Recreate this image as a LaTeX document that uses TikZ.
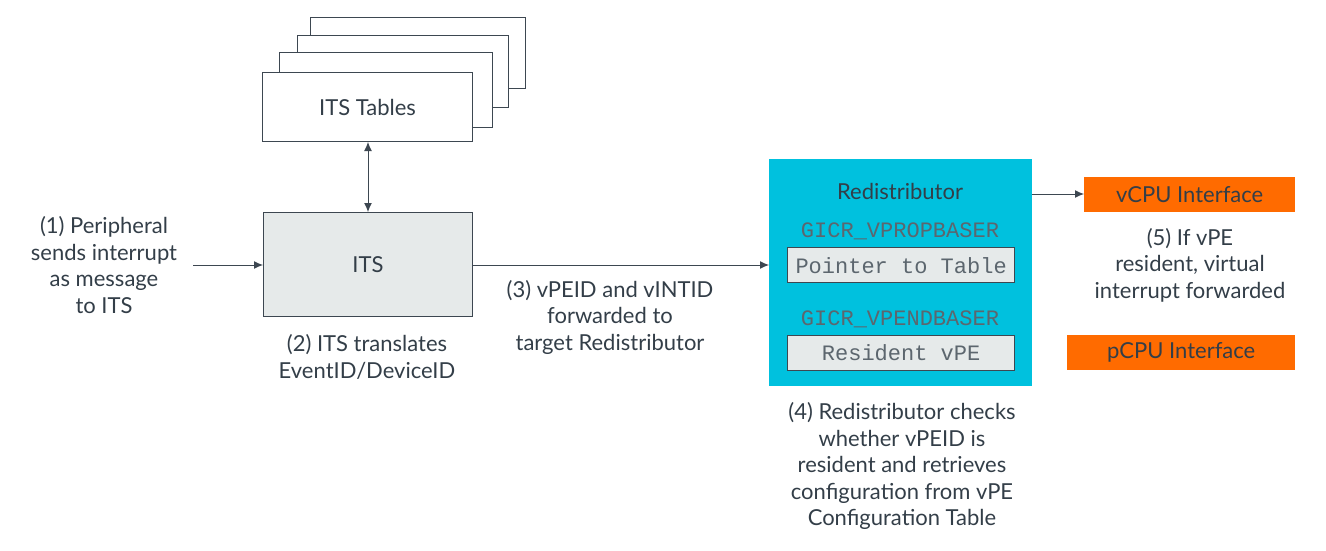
\documentclass[tikz,border=0pt]{standalone}
\usepackage{fontspec}
\setmainfont{Lato}
\newfontfamily\monofont{Liberation Mono}
\usetikzlibrary{arrows.meta}
\definecolor{txt}{HTML}{333E48}
\definecolor{ln}{HTML}{3D4751}
\definecolor{boxgray}{HTML}{E6EAEA}
\definecolor{cyanbox}{HTML}{00C1DE}
\definecolor{orangebox}{HTML}{FF6B00}
\definecolor{monotxt}{HTML}{5C666E}
\tikzset{
  lbl/.style={text=txt,font=\fontsize{22}{26.5}\selectfont,align=center,inner sep=0pt},
  tblbox/.style={draw=ln,line width=1pt,fill=white},
  regbox/.style={draw=ln,line width=1.3pt,fill=boxgray},
  mono/.style={text=monotxt,font=\monofont\fontsize{22}{24}\selectfont,inner sep=0pt},
  conn/.style={draw=ln,line width=1pt,-{Latex[length=9pt,width=8pt]}},
  dconn/.style={draw=ln,line width=1pt,{Latex[length=9pt,width=8pt]}-{Latex[length=9pt,width=8pt]}},
}
\begin{document}
\begin{tikzpicture}[x=1pt,y=-1pt]
\useasboundingbox (0,0) rectangle (1326,551);
% stacked tables
\draw[tblbox] (310,18) rectangle (525,89);
\draw[tblbox] (297,36) rectangle (508,107);
\draw[tblbox] (279,53) rectangle (492,127);
\node[tblbox,minimum width=210pt,minimum height=69pt,anchor=north west,inner sep=0pt] (tables) at (262,72) {};
\node[lbl] at (tables.center) {ITS Tables};
% ITS
\node[regbox,line width=1pt,minimum width=209pt,minimum height=104pt,anchor=north west,inner sep=0pt] (its) at (263,212) {};
\node[lbl] at (its.center) {ITS};
\draw[dconn] (tables.south -| 368,0) -- (its.north -| 368,0);
% text 1
\node[lbl] (t1) at (104,265) {(1) Peripheral\\sends interrupt\\as message\\to ITS};
\coordinate (a1) at (193,265);
\draw[conn] (a1) -- (its.west |- a1);
% text 2
\node[lbl] (t2) at (367,357) {(2) ITS translates\\EventID/DeviceID};
% Redistributor
\node[fill=cyanbox,minimum width=263pt,minimum height=227pt,anchor=north west,inner sep=0pt] (redist) at (769,159) {};
\node[lbl] (rtitle) at (900,191) {Redistributor};
\node[mono] (g1) at (900,231) {GICR\_VPROPBASER};
\node[regbox,minimum width=227pt,minimum height=35pt,anchor=north west,inner sep=0pt] (ptr) at (787,247) {};
\node[mono] at (ptr.center) {Pointer to Table};
\node[mono] (g2) at (900,319) {GICR\_VPENDBASER};
\node[regbox,minimum width=227pt,minimum height=35pt,anchor=north west,inner sep=0pt] (res) at (787,335) {};
\node[mono] at (res.center) {Resident vPE};
\draw[conn] (its.east |- 0,265) -- (redist.west |- 0,265);
% text 3
\node[lbl] (t3) at (610,317) {(3) vPEID and vINTID\\forwarded to\\target Redistributor};
% text 4
\node[lbl] (t4) at (902,466) {(4) Redistributor checks\\whether vPEID is\\resident and retrieves\\configuration from vPE\\Configuration Table};
% CPU interfaces
\node[fill=orangebox,minimum width=211pt,minimum height=35pt,anchor=north west,inner sep=0pt] (vcpu) at (1084,177) {};
\node[lbl] at (vcpu.center) {vCPU Interface};
\node[fill=orangebox,minimum width=228pt,minimum height=35pt,anchor=north west,inner sep=0pt] (pcpu) at (1067,335) {};
\node[lbl] at (pcpu.center) {pCPU Interface};
\draw[conn] (redist.east |- 0,194) -- (vcpu.west |- 0,194);
% text 5
\node[lbl] (t5) at (1190,265) {(5) If vPE\\resident, virtual\\interrupt forwarded};
\end{tikzpicture}
\end{document}
